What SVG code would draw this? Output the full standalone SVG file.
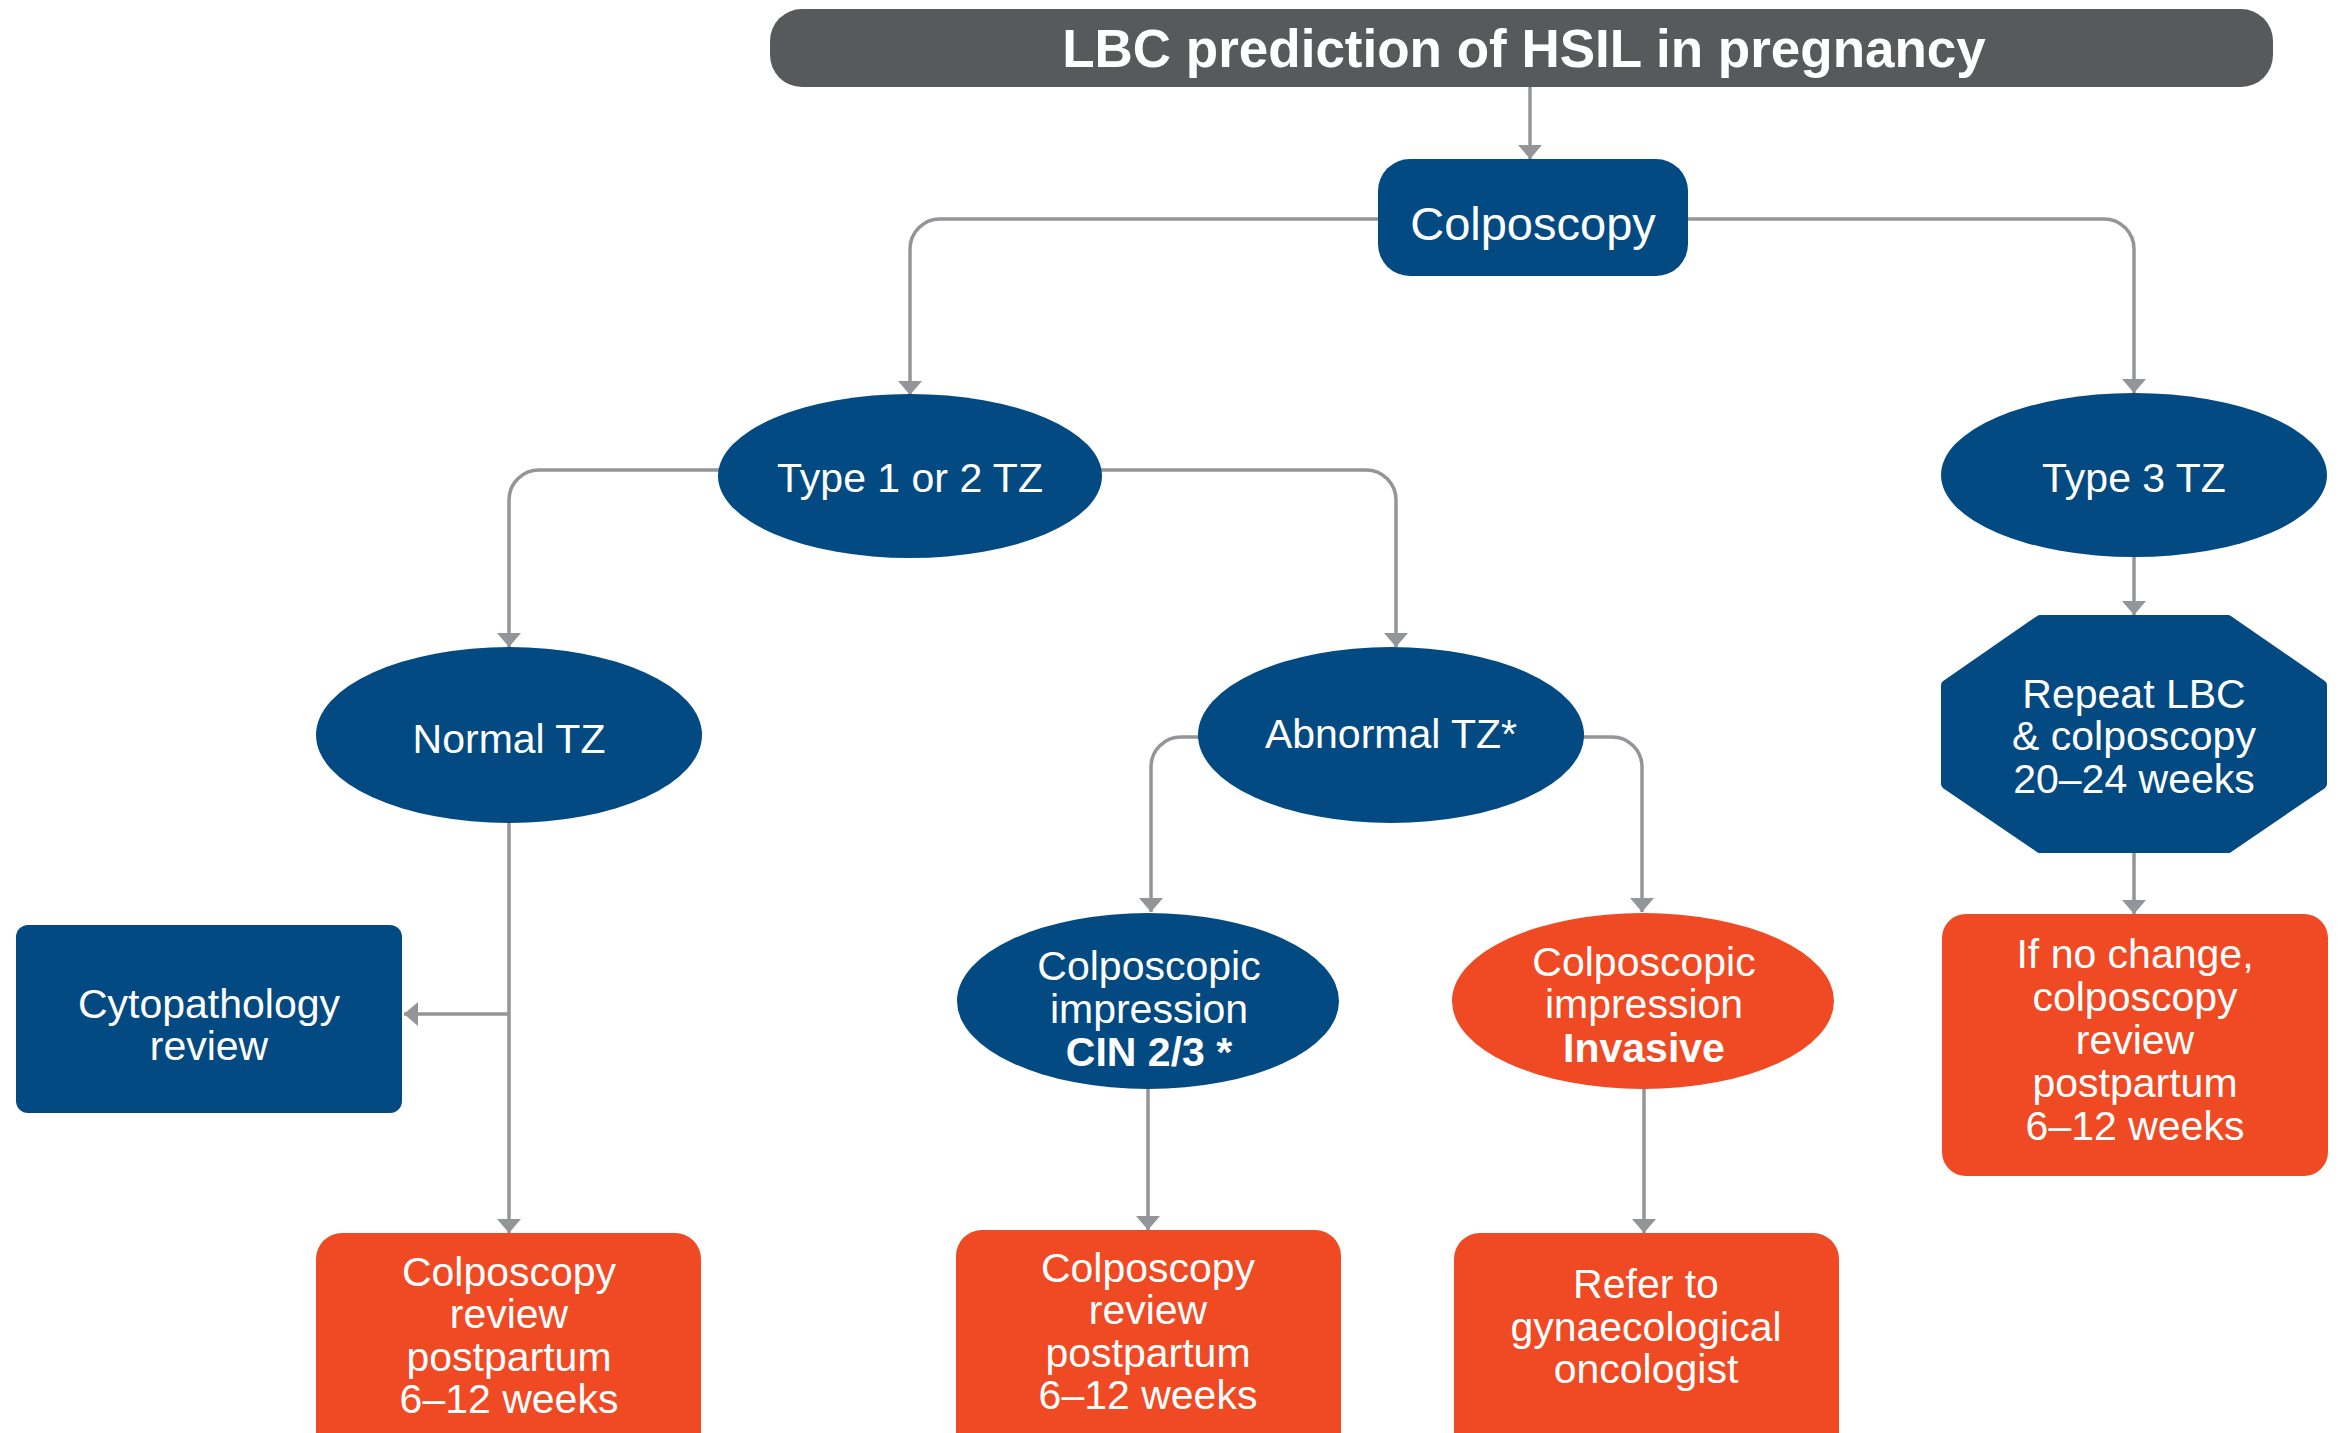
<svg xmlns="http://www.w3.org/2000/svg" width="2346" height="1433" viewBox="0 0 2346 1433">
<defs>
<style>
.blue{fill:#034a82}
.orange{fill:#ef4a24}
.t{font-family:"Liberation Sans",Arial,sans-serif;font-size:41px;fill:#ffffff;text-anchor:middle}
.b{font-weight:bold}
.conn{fill:none;stroke:#939598;stroke-width:3.5}
</style>
<marker id="ah" viewBox="0 0 14 24" refX="14" refY="12" markerWidth="14" markerHeight="24" markerUnits="userSpaceOnUse" orient="auto">
<path d="M0,0 L14,12 L0,24 Z" fill="#939598"/>
</marker>
</defs>
<rect width="2346" height="1433" fill="#ffffff"/>
<g id="connectors">
<path class="conn" d="M1530,87 V159" marker-end="url(#ah)"/>
<path class="conn" d="M1390,219 H940 A30,30 0 0 0 910,249 V395" marker-end="url(#ah)"/>
<path class="conn" d="M1676,219 H2104 A30,30 0 0 1 2134,249 V393" marker-end="url(#ah)"/>
<path class="conn" d="M730,470 H539 A30,30 0 0 0 509,500 V647" marker-end="url(#ah)"/>
<path class="conn" d="M1090,470 H1366 A30,30 0 0 1 1396,500 V647" marker-end="url(#ah)"/>
<path class="conn" d="M1210,737 H1181 A30,30 0 0 0 1151,767 V912" marker-end="url(#ah)"/>
<path class="conn" d="M1572,737 H1612 A30,30 0 0 1 1642,767 V912" marker-end="url(#ah)"/>
<path class="conn" d="M509,815 V1233" marker-end="url(#ah)"/>
<path class="conn" d="M509,1014 H404" marker-end="url(#ah)"/>
<path class="conn" d="M1148,1080 V1230" marker-end="url(#ah)"/>
<path class="conn" d="M1644,1080 V1233" marker-end="url(#ah)"/>
<path class="conn" d="M2134,550 V615" marker-end="url(#ah)"/>
<path class="conn" d="M2134,845 V914" marker-end="url(#ah)"/>
</g>
<g id="title">
<rect x="770" y="9" width="1503" height="78" rx="32" fill="#58595b"/>
<text class="t b" x="1524" y="67" style="font-size:53px">LBC prediction of HSIL in pregnancy</text>
</g>
<g id="colposcopy">
<rect class="blue" x="1378" y="159" width="310" height="117" rx="32"/>
<text class="t" x="1533" y="240" style="font-size:47px">Colposcopy</text>
</g>
<g id="type12">
<ellipse class="blue" cx="910" cy="476" rx="192" ry="82"/>
<text class="t" x="910" y="492">Type 1 or 2 TZ</text>
</g>
<g id="type3">
<ellipse class="blue" cx="2134" cy="475" rx="193" ry="82"/>
<text class="t" x="2134" y="492">Type 3 TZ</text>
</g>
<g id="normal">
<ellipse class="blue" cx="509" cy="735" rx="193" ry="88"/>
<text class="t" x="509" y="753">Normal TZ</text>
</g>
<g id="abnormal">
<ellipse class="blue" cx="1391" cy="735" rx="193" ry="88"/>
<text class="t" x="1391" y="748">Abnormal TZ*</text>
</g>
<g id="cytopathology">
<rect class="blue" x="16" y="925" width="386" height="188" rx="12"/>
<text class="t" x="209" y="1018">Cytopathology</text>
<text class="t" x="209" y="1060">review</text>
</g>
<g id="cin">
<ellipse class="blue" cx="1148" cy="1001" rx="191" ry="88"/>
<text class="t" x="1149" y="980">Colposcopic</text>
<text class="t" x="1149" y="1023">impression</text>
<text class="t b" x="1149" y="1066">CIN 2/3 *</text>
</g>
<g id="invasive">
<ellipse class="orange" cx="1643" cy="1001" rx="191" ry="88"/>
<text class="t" x="1644" y="976">Colposcopic</text>
<text class="t" x="1644" y="1018">impression</text>
<text class="t b" x="1644" y="1062">Invasive</text>
</g>
<g id="repeat">
<polygon class="blue" points="2040,620 2228,620 2322,685 2322,784 2228,848 2040,848 1946,784 1946,685" stroke="#034a82" stroke-width="10" stroke-linejoin="round"/>
<text class="t" x="2134" y="708">Repeat LBC</text>
<text class="t" x="2134" y="750">&amp; colposcopy</text>
<text class="t" x="2134" y="793">20–24 weeks</text>
</g>
<g id="nochange">
<rect class="orange" x="1942" y="914" width="386" height="262" rx="24"/>
<text class="t" x="2135" y="968">If no change,</text>
<text class="t" x="2135" y="1011">colposcopy</text>
<text class="t" x="2135" y="1054">review</text>
<text class="t" x="2135" y="1097">postpartum</text>
<text class="t" x="2135" y="1140">6–12 weeks</text>
</g>
<g id="review-normal">
<rect class="orange" x="316" y="1233" width="385" height="240" rx="26"/>
<text class="t" x="509" y="1286">Colposcopy</text>
<text class="t" x="509" y="1328">review</text>
<text class="t" x="509" y="1371">postpartum</text>
<text class="t" x="509" y="1413">6–12 weeks</text>
</g>
<g id="review-cin">
<rect class="orange" x="956" y="1230" width="385" height="240" rx="26"/>
<text class="t" x="1148" y="1282">Colposcopy</text>
<text class="t" x="1148" y="1324">review</text>
<text class="t" x="1148" y="1367">postpartum</text>
<text class="t" x="1148" y="1409">6–12 weeks</text>
</g>
<g id="refer">
<rect class="orange" x="1454" y="1233" width="385" height="240" rx="26"/>
<text class="t" x="1646" y="1298">Refer to</text>
<text class="t" x="1646" y="1341">gynaecological</text>
<text class="t" x="1646" y="1383">oncologist</text>
</g>
</svg>
